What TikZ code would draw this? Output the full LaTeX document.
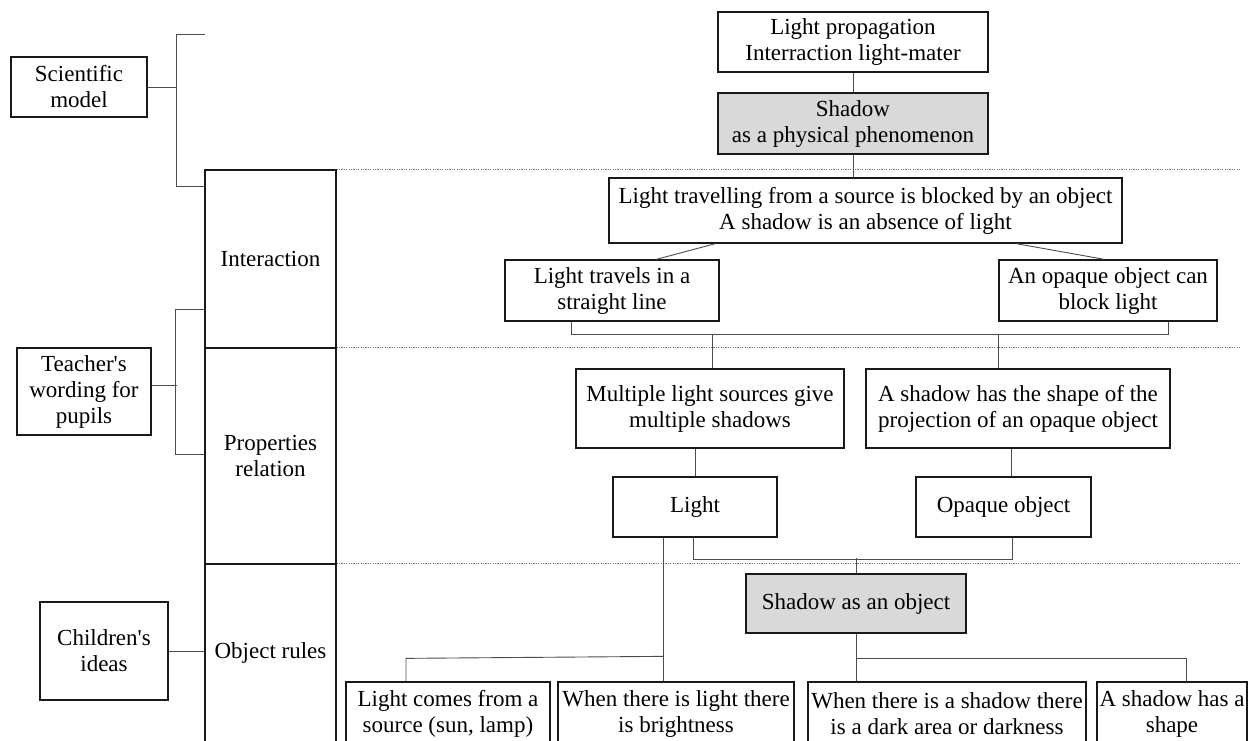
\documentclass[tikz,border=0pt]{standalone}
\usepackage{fontspec}
\setmainfont{Liberation Serif}
\begin{document}
\begin{tikzpicture}[x=1pt,y=-1pt,
  box/.style={draw=black!90, line width=1.3pt, align=center, inner sep=0pt,
    font=\fontsize{23}{26}\selectfont, text=black},
  shaded/.style={box, fill=black!15},
  cell/.style={draw=black!90, line width=1.2pt, align=center, inner sep=0pt,
    font=\fontsize{23}{26}\selectfont, minimum width=131pt},
  conn/.style={draw=black!70, line width=0.9pt},
  sep/.style={draw=black!55, line width=0.7pt, dash pattern=on 1.2pt off 1.2pt}]
\useasboundingbox (0,0) rectangle (1252,740);
\clip (0,0) rectangle (1252,740);

% left column cells
\node[cell, minimum height=178pt] (colI) at (270.5,259) {Interaction};
\node[cell, minimum height=216pt] (colP) at (270.5,456) {Properties\\relation};
\node[cell, minimum height=186pt] (colO) at (270.5,657) {};
\node[font=\fontsize{23}{26}\selectfont] (colOt) at (270.5,653) {Object rules};

% left labels
\node[box, minimum width=136pt, minimum height=60pt] (sci) at (79,87) {Scientific\\model};
\node[box, minimum width=134pt, minimum height=87pt] (teach) at (84,391.5) {Teacher\textquotesingle s\\wording for\\pupils};
\node[box, minimum width=128pt, minimum height=98pt] (child) at (104,651) {Children\textquotesingle s\\ideas};

% separators
\draw[sep] (colI.north east) -- ++(904,0);
\draw[sep] (colP.north east) -- ++(904,0);
\draw[sep] (colO.north east) -- ++(904,0);

% left brackets
\coordinate (sciTop) at (205,34);
\draw[conn] (sci.east) -- ++(29,0);
\draw[conn] (sciTop) -- ++(-29,0) |- ([yshift=-17pt]colI.north west);
\draw[conn] ([yshift=6pt]teach.east) -- ++(25,0);
\draw[conn] ([yshift=-140pt]colI.north west) -- ++(-29,0) |- ([yshift=-107pt]colP.north west);
\draw[conn] (child.east) -- (child.east -| colO.west);

% right boxes
\node[box, minimum width=270pt, minimum height=60pt] (prop) at (853,42) {Light propagation\\Interraction light-mater};
\node[shaded, minimum width=270pt, minimum height=61pt] (phys) at (853,123.5) {Shadow\\as a physical phenomenon};
\node[box, minimum width=513pt, minimum height=65pt] (trav) at (865.5,210.5) {Light travelling from a source is blocked by an object\\A shadow is an absence of light};
\node[box, minimum width=214pt, minimum height=61pt] (straight) at (612,290.5) {Light travels in a\\straight line};
\node[box, minimum width=218pt, minimum height=61pt] (block) at (1108,290.5) {An opaque object can\\block light};
\node[box, minimum width=268pt, minimum height=79pt] (multi) at (710,408.5) {Multiple light sources give\\multiple shadows};
\node[box, minimum width=304pt, minimum height=79pt] (shape) at (1018,408.5) {A shadow has the shape of the\\projection of an opaque object};
\node[box, minimum width=164pt, minimum height=60pt] (light) at (695,507) {Light};
\node[box, minimum width=175pt, minimum height=60pt] (opaque) at (1003.5,507) {Opaque object};
\node[shaded, minimum width=220pt, minimum height=59pt] (shobj) at (856,603.5) {Shadow as an object};
\node[box, minimum width=204pt, minimum height=63pt] (comes) at (448,713.5) {Light comes from a\\source (sun, lamp)};
\node[box, minimum width=236pt, minimum height=63pt] (whenlight) at (676,713.5) {When there is light there\\is brightness};
\node[box, minimum width=278pt, minimum height=63pt] (whenshadow) at (947,713.5) {When there is a shadow there\\is a dark area or darkness};
\node[box, minimum width=150pt, minimum height=63pt] (hasshape) at (1172,713.5) {A shadow has a\\shape};

% connectors
\draw[conn] (prop.south) -- (phys.north);
\draw[conn] (phys.south) -- (phys.south |- trav.north);
\draw[conn] ([xshift=107pt]trav.south west) -- ([xshift=152pt]straight.north west);
\draw[conn] ([xshift=408pt]trav.south west) -- ([xshift=106pt]block.north west);
\draw[conn] ([xshift=67pt]straight.south west) -- ++(0,13) -| ([xshift=-49pt]block.south east);
\coordinate (jA) at (712,334);
\coordinate (jB) at (998,334);
\draw[conn] (jA) -- (jA |- multi.north);
\draw[conn] (jB) -- (jB |- shape.north);
\draw[conn] (light.north) -- (light.north |- multi.south);
\draw[conn] ([xshift=7.5pt]opaque.north) -- ([xshift=7.5pt]opaque.north |- shape.south);
\draw[conn] ([xshift=-2pt]light.south) -- ++(0,22) -| ([xshift=8.5pt]opaque.south);
\draw[conn] (shobj.north) -- ++(0,-15);
\draw[conn] ([xshift=-32pt]light.south) -- ([xshift=-13pt]whenlight.north);
\draw[conn] ([xshift=-42pt]comes.north) -- ++(0,-23) -- ++(257,-2);
\draw[conn] (shobj.south) -- (shobj.south |- whenshadow.north);
\draw[conn] ([yshift=-25pt]shobj.south) -| ([xshift=14pt]hasshape.north);
\end{tikzpicture}
\end{document}
